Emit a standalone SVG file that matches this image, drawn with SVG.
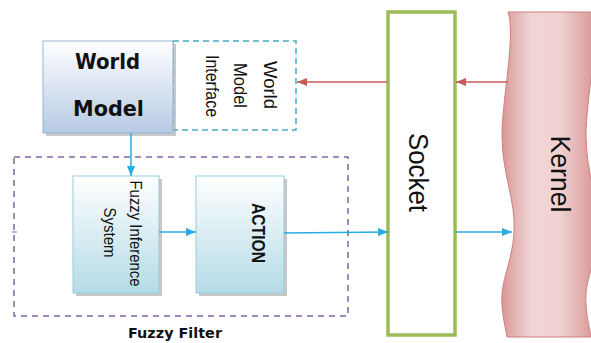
<svg xmlns="http://www.w3.org/2000/svg" width="591" height="343" viewBox="0 0 591 343">
<style>
.lbl{font-family:"Liberation Sans",Arial,sans-serif;fill:#111;text-anchor:middle}
.bold{font-family:"DejaVu Sans",Verdana,sans-serif;font-weight:bold;fill:#111;text-anchor:middle}
.shadow{fill:#9a9a9a;opacity:0.55}
.blue{stroke:#27ace3;stroke-width:1.5;fill:none}
.red{stroke:#c65a58;stroke-width:1.5;fill:none}
</style>
<defs>
<linearGradient id="gWM" x1="0" y1="0" x2="0" y2="1">
<stop offset="0" stop-color="#ffffff"/><stop offset="1" stop-color="#b6cae4"/>
</linearGradient>
<linearGradient id="gBox" x1="0" y1="0" x2="0" y2="1">
<stop offset="0" stop-color="#ffffff"/><stop offset="1" stop-color="#b5dbe6"/>
</linearGradient>
<linearGradient id="gK" x1="0" y1="0" x2="1" y2="0">
<stop offset="0" stop-color="#d99796"/><stop offset="0.3" stop-color="#f1d4d4"/><stop offset="0.6" stop-color="#f0d2d2"/><stop offset="1" stop-color="#d69190"/>
</linearGradient>
<marker id="aB" markerWidth="10" markerHeight="8" refX="10" refY="4" orient="auto" markerUnits="userSpaceOnUse">
<path d="M0,0 L10,4 L0,8 Z" fill="#27ace3"/>
</marker>
<marker id="aR" markerWidth="10" markerHeight="8" refX="10" refY="4" orient="auto" markerUnits="userSpaceOnUse">
<path d="M0,0 L10,4 L0,8 Z" fill="#c65a58"/>
</marker>
</defs>

<g id="kernel">
<path d="M508,12 C516,35 502,100 502,135 C502,175 516,200 514,232 C512,265 500,280 502,305 C503,320 506,330 507,337 L591,337 C590,330 587,320 586,305 C584,280 596,265 598,232 C600,200 586,175 586,135 C586,100 600,35 592,12 Z" fill="url(#gK)" stroke="#d07f7e" stroke-width="1"/>
<text class="lbl" x="561" y="183.8" font-size="28" textLength="77" lengthAdjust="spacingAndGlyphs" transform="rotate(90 561 174)">Kernel</text>
</g>

<g id="socket">
<rect x="388" y="12" width="67" height="323" fill="#ffffff" stroke="#9bbb59" stroke-width="3.5"/>
<text class="lbl" x="418.5" y="182" font-size="27" textLength="79" lengthAdjust="spacingAndGlyphs" transform="rotate(90 418.5 172.5)">Socket</text>
</g>

<g id="world-model-interface">
<rect x="173" y="41" width="123" height="89" fill="#ffffff" stroke="#4bacc6" stroke-width="1.5" stroke-dasharray="6,4"/>
<text class="lbl" x="270" y="91.3" font-size="18" textLength="48" lengthAdjust="spacingAndGlyphs" transform="rotate(90 270 85)">World</text>
<text class="lbl" x="240.5" y="91.8" font-size="18" textLength="45" lengthAdjust="spacingAndGlyphs" transform="rotate(90 240.5 85.5)">Model</text>
<text class="lbl" x="212.5" y="92.3" font-size="18" textLength="62" lengthAdjust="spacingAndGlyphs" transform="rotate(90 212.5 86)">Interface</text>
</g>

<g id="world-model">
<rect class="shadow" x="46" y="44" width="130" height="92"/>
<rect x="43" y="41" width="130" height="92" fill="url(#gWM)" stroke="#95b3d7" stroke-width="1"/>
<text class="bold" x="107.5" y="69" font-size="21" textLength="65" lengthAdjust="spacingAndGlyphs">World</text>
<text class="bold" x="108.5" y="116" font-size="21" textLength="71" lengthAdjust="spacingAndGlyphs">Model</text>
</g>

<g id="fuzzy-filter">
<rect x="14" y="157" width="334" height="159" fill="none" stroke="#8064a2" stroke-width="1.5" stroke-dasharray="6,5"/>
<line x1="12" y1="232" x2="17" y2="232" stroke="#8064a2" stroke-width="1"/>
<text class="bold" x="175" y="338" font-size="14.5" textLength="94" lengthAdjust="spacingAndGlyphs">Fuzzy Filter</text>
</g>

<g id="fuzzy-inference-system">
<rect class="shadow" x="76" y="179" width="86" height="117"/>
<rect x="73" y="176" width="86" height="117" fill="url(#gBox)" stroke="#93cddd" stroke-width="1"/>
<text class="lbl" x="136" y="239.4" font-size="17" textLength="106" lengthAdjust="spacingAndGlyphs" transform="rotate(90 136 233.5)">Fuzzy Inference</text>
<text class="lbl" x="110" y="238.4" font-size="17" textLength="50" lengthAdjust="spacingAndGlyphs" transform="rotate(90 110 232.5)">System</text>
</g>

<g id="action">
<rect class="shadow" x="199" y="179" width="88" height="117"/>
<rect x="196" y="176" width="88" height="117" fill="url(#gBox)" stroke="#93cddd" stroke-width="1"/>
<text x="258.5" y="239.3" font-family="Liberation Sans, Arial, sans-serif" font-weight="bold" font-size="18" fill="#111" text-anchor="middle" textLength="60" lengthAdjust="spacingAndGlyphs" transform="rotate(90 258.5 233)">ACTION</text>
</g>

<g id="connectors">
<path class="blue" d="M131,133 V176" marker-end="url(#aB)"/>
<path class="blue" d="M159,232 H196" marker-end="url(#aB)"/>
<path class="blue" d="M284,233 L388,232" marker-end="url(#aB)"/>
<path class="blue" d="M455,232 H512" marker-end="url(#aB)"/>
<path class="red" d="M508,82 H456" marker-end="url(#aR)"/>
<path class="red" d="M387,82 H297" marker-end="url(#aR)"/>
</g>
</svg>
